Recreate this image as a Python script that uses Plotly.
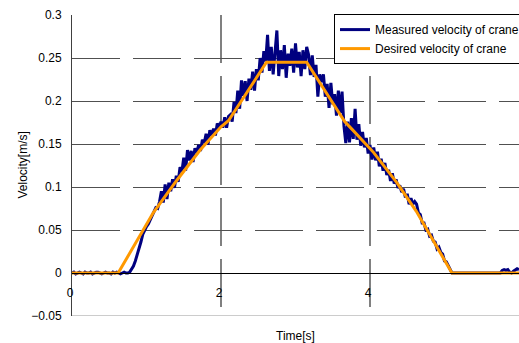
import plotly.graph_objects as go

# ---- data ----
dt = 0.025  # sampling step of the measured series [s]
measured_velocity = [
    # t = 0.000 .. 0.750
    0.000, 0.001, -0.001, 0.000, 0.001, 0.000, -0.001, 0.001, 0.000, 0.000,
    0.001, -0.001, 0.000, 0.001, 0.001, 0.000, -0.001, 0.000, 0.001, 0.000,
    0.000, -0.001, 0.001, 0.000, 0.001, 0.000, -0.001, 0.000, 0.001, 0.000,
    0.000,
    # t = 0.775 .. 1.100
    0.001, 0.004, 0.008, 0.014, 0.021, 0.028, 0.036, 0.045, 0.050, 0.054,
    0.057, 0.062, 0.066, 0.071,
    # t = 1.125 .. 1.400
    0.076, 0.075, 0.083, 0.095, 0.082, 0.103, 0.086, 0.105, 0.095, 0.109,
    0.099, 0.113,
    # t = 1.425 .. 1.700
    0.106, 0.123, 0.118, 0.134, 0.119, 0.143, 0.131, 0.142, 0.129, 0.145,
    0.140, 0.149,
    # t = 1.725 .. 2.000
    0.142, 0.155, 0.151, 0.162, 0.149, 0.166, 0.160, 0.168, 0.160, 0.174,
    0.169, 0.176,
    # t = 2.025 .. 2.100
    0.169, 0.181, 0.169, 0.182,
    # t = 2.125 .. 2.600
    0.184, 0.176, 0.199, 0.186, 0.212, 0.191, 0.224, 0.206, 0.223, 0.200,
    0.226, 0.213, 0.234, 0.212, 0.237, 0.224, 0.250, 0.233, 0.258, 0.246,
    # t = 2.625 .. 3.150
    0.277, 0.235, 0.263, 0.231, 0.257, 0.282, 0.229, 0.259, 0.237, 0.265,
    0.227, 0.255, 0.241, 0.261, 0.233, 0.267, 0.239, 0.257, 0.229, 0.259,
    0.237, 0.263,
    # t = 3.175 .. 3.650
    0.254, 0.230, 0.253, 0.228, 0.242, 0.205, 0.231, 0.222, 0.231, 0.205,
    0.220, 0.192, 0.221, 0.196, 0.208, 0.183, 0.212, 0.186, 0.211, 0.171,
    # t = 3.675 .. 3.750
    0.151, 0.176, 0.152, 0.180,
    # t = 3.775 .. 4.050
    0.156, 0.191, 0.155, 0.173, 0.148, 0.164, 0.146, 0.157, 0.139, 0.149,
    0.132, 0.146,
    # t = 4.075 .. 4.350
    0.131, 0.141, 0.124, 0.133, 0.119, 0.128, 0.114, 0.120, 0.107, 0.116,
    0.104, 0.109,
    # t = 4.375 .. 4.600
    0.099, 0.102, 0.094, 0.098, 0.088, 0.092, 0.080, 0.087, 0.080, 0.083,
    # t = 4.625 .. 5.100
    0.080, 0.070, 0.068, 0.058, 0.058, 0.050, 0.051, 0.043, 0.044, 0.037,
    0.036, 0.028, 0.030, 0.024, 0.022, 0.014, 0.013, 0.008, 0.005, 0.000,
    # t = 5.125 .. 6.000
    0.000, 0.000, 0.000, 0.000, 0.000, 0.000, 0.000, 0.000, 0.000, 0.000,
    0.000, 0.000, 0.000, 0.000, 0.000, 0.000, 0.000, 0.000, 0.000, 0.000,
    0.000, 0.000, 0.000, 0.000, 0.000, 0.000,
    0.003, 0.004, 0.003, 0.004, 0.001, 0.000, 0.002, 0.004, 0.005, 0.004,
]
measured_time = [round(i * dt, 3) for i in range(len(measured_velocity))]

desired_time = [0.0, 0.62, 1.09, 1.40, 1.72, 2.00, 2.10, 2.61, 3.15,
                3.66, 3.76, 4.05, 4.36, 4.62, 5.10, 6.0]
desired_velocity = [0.0, 0.0, 0.070, 0.107, 0.143, 0.170, 0.177, 0.245, 0.245,
                    0.176, 0.167, 0.140, 0.105, 0.072, 0.0, 0.0]

x_ticks = [0, 2, 4]
y_ticks = [-0.05, 0, 0.05, 0.1, 0.15, 0.2, 0.25, 0.3]
y_tick_text = ["\u22120.05", "0", "0.05", "0.1", "0.15", "0.2", "0.25", "0.3"]

FONT = "Liberation Sans, Arial, sans-serif"
DASH = "48px,13px"

fig = go.Figure()
fig.add_trace(go.Scatter(
    x=measured_time, y=measured_velocity, mode="lines",
    name="Measured velocity of crane",
    line=dict(color="#000080", width=3),
))
fig.add_trace(go.Scatter(
    x=desired_time, y=desired_velocity, mode="lines",
    name="Desired velocity of crane",
    line=dict(color="#FF9900", width=3),
))

# bottom frame line
fig.add_shape(type="line", xref="paper", yref="y", x0=0, x1=1, y0=-0.05, y1=-0.05,
              line=dict(color="#999999", width=1), layer="below")

fig.update_layout(
    width=519, height=343,
    margin=dict(l=72, r=0, t=15, b=27, autoexpand=False),
    paper_bgcolor="white", plot_bgcolor="white",
    font=dict(family=FONT, size=12, color="black"),
    showlegend=True,
    legend=dict(
        x=(334 - 72) / 447, xanchor="left", y=1.003, yanchor="top",
        bgcolor="white", bordercolor="black", borderwidth=1,
        font=dict(family=FONT, size=12, color="black"),
        itemwidth=30, tracegroupgap=0,
    ),
    xaxis=dict(
        range=[0, 6], tickmode="array", tickvals=x_ticks,
        ticktext=[str(v) for v in x_ticks],
        anchor="free", position=0.05 / 0.35,
        showline=True, linecolor="black", linewidth=1,
        ticks="", ticklabelposition="outside left", ticklabelstandoff=9,
        ticklabelshift=2,
        showgrid=True, gridcolor="#808080", gridwidth=1.5, griddash=DASH,
        zeroline=False,
        tickfont=dict(family=FONT, size=12, color="black"),
    ),
    yaxis=dict(
        range=[-0.05, 0.3], tickmode="array", tickvals=y_ticks,
        ticktext=y_tick_text,
        showline=True, linecolor="#404040", linewidth=1,
        ticks="", ticklabelstandoff=7,
        showgrid=True, gridcolor="#505050", gridwidth=1, griddash=DASH,
        zeroline=True, zerolinecolor="black", zerolinewidth=1,
        tickfont=dict(family=FONT, size=12, color="black"),
    ),
    annotations=[
        dict(text="Time[s]", xref="paper", yref="paper", x=0.5, y=-20 / 301,
             xanchor="center", yanchor="middle", showarrow=False,
             font=dict(family=FONT, size=12, color="black")),
        dict(text="Velocity[m/s]", xref="paper", yref="paper", x=-50 / 447, y=0.5,
             xanchor="center", yanchor="middle", textangle=-90, showarrow=False,
             font=dict(family=FONT, size=12, color="black")),
    ],
)

# remove the browser's default 8px page margin so the figure fills the window
fig.write_html(
    "out.html",
    config={"displayModeBar": False},
    post_script="document.body.style.margin='0';document.body.style.overflow='hidden';",
)
